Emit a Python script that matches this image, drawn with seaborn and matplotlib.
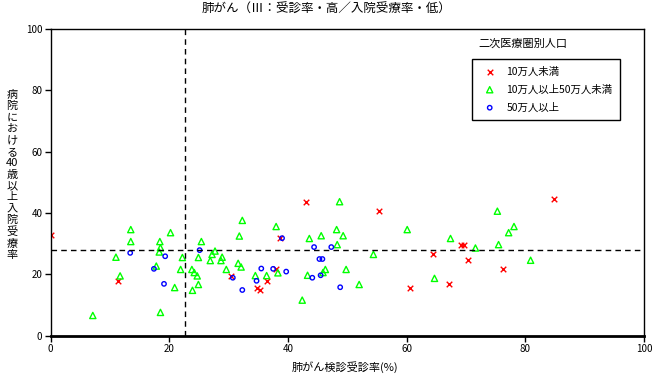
import numpy as np
import pandas as pd
import matplotlib
matplotlib.use("Agg")
import matplotlib.pyplot as plt
import seaborn as sns

# data
x_small = [0.0, 11.4, 30.4, 38.7, 38.0, 36.4, 34.7, 35.2, 43.1, 55.4,
           69.2, 69.7, 64.5, 70.3, 67.2, 60.6, 84.9, 76.2]
y_small = [32.7, 17.7, 19.6, 31.7, 21.8, 17.8, 15.7, 14.8, 43.7, 40.8,
           29.7, 29.7, 26.8, 24.8, 16.7, 15.7, 44.7, 21.8]

x_mid = [13.5, 13.5, 20.2, 18.4, 18.5, 18.3, 11.0, 22.2, 24.9, 17.8,
         11.7, 21.9, 23.8, 24.2, 24.7, 24.9, 20.9, 23.9, 18.5, 7.1,
         25.4, 27.7, 27.2, 26.9, 28.9, 28.7, 32.3, 31.8, 29.6, 31.6,
         32.1, 38.0, 34.5, 36.4, 38.3, 48.7, 48.2, 49.3, 48.3, 43.6,
         45.6, 46.3, 45.9, 49.8, 43.3, 42.4, 60.1, 67.4, 71.6, 75.5,
         54.4, 64.7, 52.0, 75.3, 78.1, 77.2, 80.9]
y_mid = [34.6, 30.7, 33.6, 30.7, 28.7, 27.3, 25.6, 25.5, 25.5, 22.7,
         19.5, 21.6, 21.6, 20.6, 19.5, 16.7, 15.7, 14.8, 7.6, 6.6,
         30.7, 27.6, 26.5, 24.5, 25.6, 24.5, 37.6, 32.5, 21.6, 23.6,
         22.4, 35.6, 19.6, 19.6, 20.5, 43.7, 34.6, 32.6, 29.7, 31.7,
         32.6, 21.6, 20.6, 21.6, 19.7, 11.6, 34.6, 31.7, 28.6, 29.7,
         26.5, 18.7, 16.7, 40.6, 35.6, 33.6, 24.6]

x_large = [13.4, 19.3, 17.4, 19.1, 25.1, 30.7, 32.3, 39.0, 35.5, 37.5,
           39.7, 34.7, 44.4, 47.3, 45.3, 45.8, 45.5, 44.1, 48.8]
y_large = [27.0, 25.9, 21.8, 16.9, 27.9, 18.9, 14.9, 31.8, 21.9, 21.8,
           20.9, 17.9, 28.9, 28.9, 25.0, 25.0, 19.7, 18.9, 15.8]

groups = ["10万人未満", "10万人以上50万人未満", "50万人以上"]
ref_x = 22.7   # 受診率の基準線
ref_y = 28.0   # 入院受療率の基準線

sns.set_style("white")
plt.rcParams["font.family"] = ["Noto Sans CJK JP", "DejaVu Sans"]
plt.rcParams["text.color"] = "black"
plt.rcParams["xtick.color"] = "black"
plt.rcParams["ytick.color"] = "black"

df = pd.concat([
    pd.DataFrame({"x": x_small, "y": y_small, "g": groups[0]}),
    pd.DataFrame({"x": x_mid, "y": y_mid, "g": groups[1]}),
    pd.DataFrame({"x": x_large, "y": y_large, "g": groups[2]}),
])

fig = plt.figure(figsize=(6.53, 3.76), dpi=100)
ax = fig.add_axes([50.7 / 653, 1 - 335.7 / 376, (643.9 - 50.7) / 653, (335.7 - 29) / 376])

styles = {
    groups[0]: dict(marker="x", s=16, color="#ff0000", linewidth=1.0),
    groups[1]: dict(marker="^", s=20, facecolor="none", edgecolor="#00ff00", linewidth=1.0),
    groups[2]: dict(marker="o", s=10, facecolor="none", edgecolor="#0000ff", linewidth=1.0),
}
for g in groups:
    sub = df[df["g"] == g]
    sns.scatterplot(data=sub, x="x", y="y", ax=ax, label=g, **styles[g])

ax.axhline(ref_y, color="black", lw=1, ls=(0, (4, 3)), zorder=1)
ax.axvline(ref_x, color="black", lw=1, ls=(0, (4, 3)), zorder=1)

ax.set_xlim(0, 100)
ax.set_ylim(0, 100)
ax.set_xticks(range(0, 101, 20))
ax.set_yticks(range(0, 101, 20))
ax.tick_params(axis="both", direction="out", length=4, width=1, labelsize=7,
               bottom=True, left=True, color="black", labelcolor="black", pad=2)
for side, sp in ax.spines.items():
    sp.set_color("black")
    sp.set_linewidth(1)
ax.spines["bottom"].set_linewidth(2)

ax.set_xlabel("")
ax.set_ylabel("")
fig.text(345 / 653, 1 - 367 / 376, "肺がん検診受診率(%)", fontsize=8,
         ha="center", va="center")
ylab = "\n".join(["病", "院", "に", "お", "け", "る", "40", "歳", "以", "上",
                  "入", "院", "受", "療", "率"])
fig.text(12 / 653, 1 - 175 / 376, ylab, fontsize=8, ha="center", va="center",
         linespacing=1.17)
fig.text(0.5, 1 - 9 / 376, "肺がん（Ⅲ：受診率・高／入院受療率・低）",
         fontsize=9, ha="center", va="center")

fig.text(478 / 653, 1 - 44 / 376, "二次医療圏別人口", fontsize=8,
         ha="left", va="center")
leg = ax.legend(loc="upper left", bbox_to_anchor=(472 / 653, 1 - 59 / 376),
                bbox_transform=fig.transFigure, fontsize=7.5, frameon=True,
                fancybox=False, edgecolor="black", framealpha=1,
                handletextpad=0.6, handlelength=2.0, labelspacing=0.75,
                borderpad=0.7, borderaxespad=0)
leg.get_frame().set_linewidth(1)

fig.savefig("out.png", dpi=100)
